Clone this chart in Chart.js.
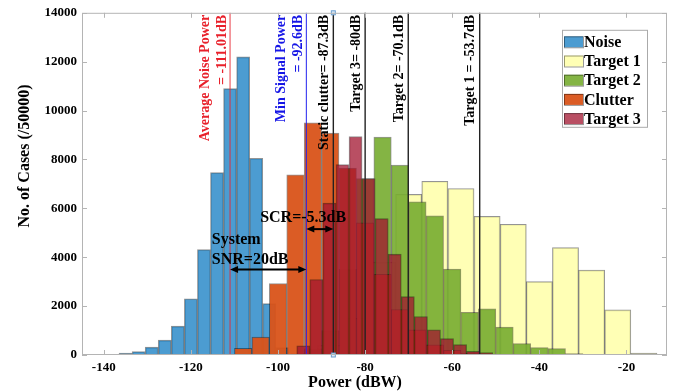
<!DOCTYPE html>
<html>
<head>
<meta charset="utf-8">
<script src="https://cdn.jsdelivr.net/npm/chart.js@4"></script>
<style>
  html, body { margin: 0; padding: 0; background: #fff; }
  #wrap { width: 685px; height: 391px; }
</style>
</head>
<body>
<div id="wrap"><canvas id="histChart"></canvas></div>
<script>
// ============================
// DATA (bin centres in dBW, counts out of 50000 cases)
// ============================
const noiseBins = [-138, -135, -132, -129, -126, -123, -120, -117, -114, -111, -108, -105, -102, -99, -96];
const noiseCounts = [30, 80, 135, 320, 610, 1180, 2300, 4310, 7460, 10900, 12200, 8050, 2100, 300, 25];

const target1Bins = [-94, -88, -82, -76, -70, -64, -58, -52, -46, -40, -34, -28, -22, -16];
const target1Counts = [60, 400, 1500, 3800, 6570, 7110, 6810, 5670, 5350, 3000, 4395, 3475, 1848, 81];

const target2Bins = [-96, -92, -88, -84, -80, -76, -72, -68, -64, -60, -56, -52, -48, -44, -40, -36, -32, -28];
const target2Counts = [40, 250, 1000, 3500, 7220, 8913, 7774, 6270, 5690, 3520, 1750, 1890, 1140, 465, 300, 260, 57, 20];

const clutterBins = [-108, -104, -100, -96, -92, -88, -84, -80, -76, -72, -68, -64, -60, -56, -52];
const clutterCounts = [270, 730, 2920, 7370, 9500, 9080, 7650, 5410, 3300, 1860, 1030, 420, 190, 80, 30];

const target3Bins = [-94.2, -91.2, -88.2, -85.2, -82.2, -79.2, -76.2, -73.2, -70.2, -67.2, -64.2, -61.2, -58.2, -55.2, -52.2, -49.2, -46.2];
const target3Counts = [380, 3090, 6215, 7790, 8940, 7220, 5580, 4130, 2390, 1575, 1033, 667, 423, 150, 98, 28, 28];

// reference levels (position in dBW, label lines)
const refLevels = [-111.01, -93.5, -87.3, -80, -70.1, -53.7];
const refLabels = [
  ["Average Noise Power", "= -111.01dB"],
  ["Min Signal Power", "= -92.6dB"],
  ["Static clutter= -87.3dB"],
  ["Target 3= -80dB"],
  ["Target 2= -70.1dB"],
  ["Target 1 = -53.7dB"],
];

const xTickLabels = [-140, -120, -100, -80, -60, -40, -20];
const yTickLabels = [0, 2000, 4000, 6000, 8000, 10000, 12000, 14000];

const SERIF = "'Liberation Serif', 'Times New Roman', serif";
const X_MIN = -145, X_MAX = -10.7;

// ============================
// HELPERS
// ============================
function toPoints(bins, counts) {
  return bins.map((b, i) => ({ x: b, y: counts[i] }));
}

function hist(label, bins, counts, axis, fill, order) {
  return {
    label: label,
    data: toPoints(bins, counts),
    xAxisID: axis,
    backgroundColor: fill,
    borderColor: "rgba(0,0,0,0.42)",
    borderWidth: 1,
    barPercentage: 1,
    categoryPercentage: 1,
    grouped: false,
    order: order,
  };
}

// every histogram gets its own hidden x scale so Chart.js sizes the bars from its own bin width
function hiddenAxis() {
  return { type: "linear", display: false, min: X_MIN, max: X_MAX, offset: false, ticks: { stepSize: 20 } };
}

function arrow(ctx, x1, x2, y) {
  ctx.beginPath();
  ctx.moveTo(x1 + 6, y);
  ctx.lineTo(x2 - 6, y);
  ctx.stroke();
  [[x1, 1], [x2, -1]].forEach(([px, dir]) => {
    ctx.beginPath();
    ctx.moveTo(px, y);
    ctx.lineTo(px + 8 * dir, y - 3.5);
    ctx.lineTo(px + 8 * dir, y + 3.5);
    ctx.closePath();
    ctx.fill();
  });
}

// ============================
// ANNOTATIONS (box, lines, arrows, legend, titles)
// ============================
const annotate = {
  id: "annotate",
  afterDatasetsDraw(chart) {
    const { ctx, chartArea: a, scales } = chart;
    const xs = scales.x, ys = scales.y;
    ctx.save();

    // reference lines
    const lineColors = ["rgba(230,40,50,0.9)", "#2222ee", "#222", "#222", "#222", "#222"];
    const textColors = ["#e8202a", "#1515e6", "#000", "#000", "#000", "#000"];
    refLevels.forEach((v, i) => {
      const px = xs.getPixelForValue(v);
      ctx.strokeStyle = lineColors[i];
      ctx.lineWidth = i < 2 ? 1 : 1.4;
      ctx.beginPath();
      ctx.moveTo(px, a.top);
      ctx.lineTo(px, a.bottom);
      ctx.stroke();

      const lines = refLabels[i];
      ctx.fillStyle = textColors[i];
      ctx.font = "bold 14px " + SERIF;
      ctx.textAlign = "right";
      ctx.textBaseline = "middle";
      lines.forEach((t, k) => {
        const off = lines.length === 2 ? (k === 0 ? 25 : 8) : 9;
        ctx.save();
        ctx.translate(px - off, a.top + 2);
        ctx.rotate(-Math.PI / 2);
        ctx.fillText(t, 0, 0);
        ctx.restore();
      });
    });

    // small markers at the ends of the static clutter line
    const sc = xs.getPixelForValue(refLevels[2]);
    ctx.strokeStyle = "#6a9fd0";
    ctx.fillStyle = "#dbe9f6";
    ctx.lineWidth = 1;
    [a.top, a.bottom].forEach((py) => {
      ctx.fillRect(sc - 2, py - 2, 4, 4);
      ctx.strokeRect(sc - 2, py - 2, 4, 4);
    });

    // SNR / SCR arrows
    ctx.strokeStyle = "#000";
    ctx.fillStyle = "#000";
    ctx.lineWidth = 2;
    arrow(ctx, xs.getPixelForValue(refLevels[0]), xs.getPixelForValue(refLevels[1]), ys.getPixelForValue(3500));
    arrow(ctx, xs.getPixelForValue(refLevels[1]), xs.getPixelForValue(refLevels[2]), ys.getPixelForValue(5150));
    ctx.font = "bold 16px " + SERIF;
    ctx.textAlign = "left";
    ctx.textBaseline = "middle";
    ctx.fillText("System", xs.getPixelForValue(-115.2), ys.getPixelForValue(4700));
    ctx.fillText("SNR=20dB", xs.getPixelForValue(-115.2), ys.getPixelForValue(3900));
    ctx.fillText("SCR=-5.3dB", xs.getPixelForValue(-104.1), ys.getPixelForValue(5620));

    // axes box with inward ticks
    ctx.strokeStyle = "#b4b4b4";
    ctx.lineWidth = 1;
    ctx.strokeRect(a.left + 0.5, a.top + 0.5, a.right - a.left - 1, a.bottom - a.top - 1);
    ctx.beginPath();
    xs.ticks.forEach((t) => {
      const px = Math.round(xs.getPixelForValue(t.value)) + 0.5;
      ctx.moveTo(px, a.bottom); ctx.lineTo(px, a.bottom - 5);
      ctx.moveTo(px, a.top); ctx.lineTo(px, a.top + 5);
    });
    ys.ticks.forEach((t) => {
      const py = Math.round(ys.getPixelForValue(t.value)) + 0.5;
      ctx.moveTo(a.left, py); ctx.lineTo(a.left + 5, py);
      ctx.moveTo(a.right, py); ctx.lineTo(a.right - 5, py);
    });
    ctx.stroke();

    // legend
    const lx = a.right - 105, ly = a.top + 17, lw = 85, lh = 97;
    ctx.fillStyle = "#fff";
    ctx.fillRect(lx, ly, lw, lh);
    ctx.strokeStyle = "#aaa";
    ctx.strokeRect(lx + 0.5, ly + 0.5, lw, lh);
    ctx.font = "bold 16px " + SERIF;
    ctx.textAlign = "left";
    ctx.textBaseline = "middle";
    chart.data.datasets.forEach((ds, r) => {
      const ry = ly + 12 + r * 19.2;
      ctx.fillStyle = ds.backgroundColor;
      ctx.fillRect(lx + 2, ry - 5.5, 19, 11);
      ctx.strokeStyle = "rgba(0,0,0,0.4)";
      ctx.strokeRect(lx + 2.5, ry - 5, 19, 11);
      ctx.fillStyle = "#000";
      ctx.fillText(ds.label, lx + 22, ry + 1);
    });

    // axis titles
    ctx.font = "bold 16px " + SERIF;
    ctx.textAlign = "center";
    ctx.fillStyle = "#000";
    ctx.fillText("Power (dBW)", 355, 383);
    ctx.save();
    ctx.translate(25, 156);
    ctx.rotate(-Math.PI / 2);
    ctx.fillText("No. of Cases (/50000)", 0, 0);
    ctx.restore();

    ctx.restore();
  },
};

// ============================
// CHART
// ============================
const ctx = document.getElementById("histChart").getContext("2d");

const tickFont = { family: SERIF, size: 13, weight: "bold" };

const myChart = new Chart(ctx, {
  type: "bar",
  data: {
    datasets: [
      hist("Noise", noiseBins, noiseCounts, "xNoise", "rgba(0,114,189,0.7)", 5),
      hist("Target 1", target1Bins, target1Counts, "xT1", "rgba(255,255,153,0.72)", 4),
      hist("Target 2", target2Bins, target2Counts, "xT2", "rgba(119,172,48,0.9)", 3),
      hist("Clutter", clutterBins, clutterCounts, "xClutter", "rgba(217,83,25,0.95)", 2),
      hist("Target 3", target3Bins, target3Counts, "xT3", "rgba(162,20,47,0.75)", 1),
    ],
  },
  options: {
    responsive: true,
    maintainAspectRatio: false,
    animation: false,
    layout: { padding: { top: 11, right: 18, left: 0, bottom: 0 } },
    plugins: {
      legend: { display: false },
      tooltip: { enabled: false },
    },
    scales: {
      x: {
        type: "linear",
        position: "bottom",
        min: X_MIN,
        max: X_MAX,
        offset: false,
        grid: { display: false, drawTicks: false },
        border: { display: false },
        afterBuildTicks: (s) => { s.ticks = xTickLabels.map((v) => ({ value: v })); },
        ticks: { padding: 5, color: "#000", font: tickFont, callback: (v) => String(v) },
        afterFit: (s) => { s.height = 36; },
      },
      xNoise: hiddenAxis(),
      xT1: hiddenAxis(),
      xT2: hiddenAxis(),
      xClutter: hiddenAxis(),
      xT3: hiddenAxis(),
      y: {
        type: "linear",
        min: 0,
        max: 14000,
        grid: { display: false, drawTicks: false },
        border: { display: false },
        afterBuildTicks: (s) => { s.ticks = yTickLabels.map((v) => ({ value: v })); },
        ticks: { padding: 5, color: "#000", font: tickFont, callback: (v) => String(v) },
        afterFit: (s) => { s.width = 82; },
      },
    },
  },
  plugins: [annotate],
});
</script>
</body>
</html>
